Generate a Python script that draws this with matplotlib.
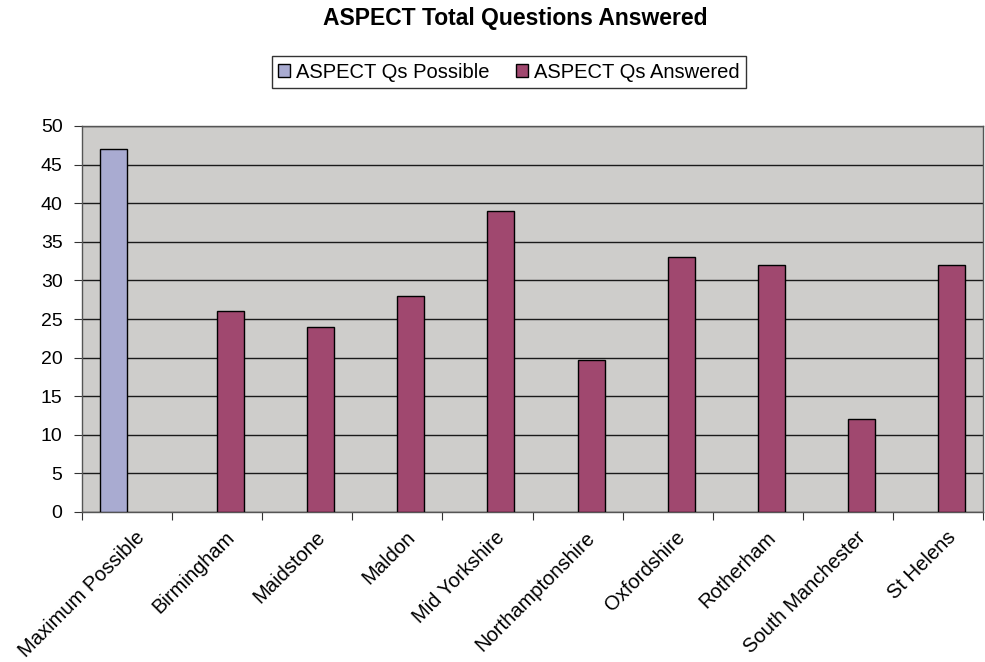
import matplotlib.pyplot as plt
import numpy as np
from matplotlib.patches import Patch
from matplotlib.transforms import ScaledTranslation

plt.rcParams['font.family'] = ['Liberation Sans', 'DejaVu Sans']

categories = ["Maximum Possible", "Birmingham", "Maidstone", "Maldon", "Mid Yorkshire",
              "Northamptonshire", "Oxfordshire", "Rotherham", "South Manchester", "St Helens"]
possible = [47, np.nan, np.nan, np.nan, np.nan, np.nan, np.nan, np.nan, np.nan, np.nan]
answered = [np.nan, 26, 24, 28, 39, 19.7, 33, 32, 12, 32]
yticks = [0, 5, 10, 15, 20, 25, 30, 35, 40, 45, 50]

possible_color = "#A9ABD1"
answered_color = "#A0486F"

fig = plt.figure(figsize=(9.85, 6.62), dpi=100)
ax = fig.add_axes([82 / 985, 1 - 512 / 662, 901 / 985, 386 / 662])
ax.set_facecolor("#CECDCB")

x = np.arange(len(categories))
w = 0.3
ax.bar(x - w / 2, possible, w, color=possible_color, edgecolor="black", linewidth=1, zorder=3)
ax.bar(x + w / 2, answered, w, color=answered_color, edgecolor="black", linewidth=1, zorder=3)

ax.set_xlim(-0.5, len(categories) - 0.5)
ax.set_ylim(0, 50)
ax.set_yticks(yticks)
ax.yaxis.grid(True, color="#1a1a1a", linewidth=1, zorder=1)
ax.set_axisbelow(True)

# tick marks on the category boundaries, names drawn under the centres
ax.set_xticks(np.arange(-0.5, len(categories), 1.0))
ax.set_xticklabels([])
ax.tick_params(axis="x", length=6, color="#333333", direction="out")
ax.tick_params(axis="y", length=6, color="#333333", labelsize=14, pad=8)

lab_tr = ax.get_xaxis_transform() + ScaledTranslation(0.08, -0.16, fig.dpi_scale_trans)
for i, name in zip(x, categories):
    ax.text(i, 0, name, transform=lab_tr, rotation=45, ha="right", va="top",
            rotation_mode="anchor", fontsize=14.5, clip_on=False)

for s in ax.spines.values():
    s.set_color("#555555")
    s.set_linewidth(1)

fig.text(515 / 985, 1 - 18 / 662, "ASPECT Total Questions Answered", ha="center", va="center",
         fontsize=16.5, fontweight="bold")

handles = [Patch(facecolor=possible_color, edgecolor="black", linewidth=1),
           Patch(facecolor=answered_color, edgecolor="black", linewidth=1)]
leg = fig.legend(handles, ["ASPECT Qs Possible", "ASPECT Qs Answered"], loc="center",
                 bbox_to_anchor=(509 / 985, 1 - 72 / 662), ncol=2, fontsize=14.5,
                 frameon=True, fancybox=False, edgecolor="black", handlelength=0.6,
                 handleheight=0.6, handletextpad=0.3, columnspacing=1.3,
                 borderpad=0.3, borderaxespad=0)
leg.get_frame().set_linewidth(1)

fig.savefig("out.png", dpi=100)
